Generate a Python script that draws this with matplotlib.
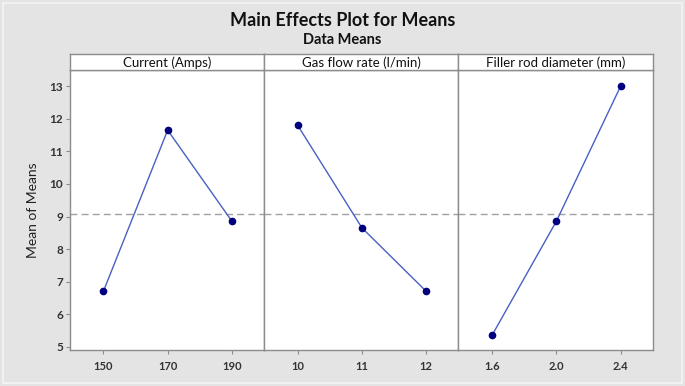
import matplotlib.pyplot as plt
from matplotlib.patches import Rectangle

# factor levels and mean of means
factors = ["Current (Amps)", "Gas flow rate (l/min)", "Filler rod diameter (mm)"]
levels = [["150", "170", "190"], ["10", "11", "12"], ["1.6", "2.0", "2.4"]]
means = [[6.70, 11.65, 8.85], [11.80, 8.65, 6.70], [5.35, 8.85, 13.00]]
grand_mean = 9.07
yticks = [5, 6, 7, 8, 9, 10, 11, 12, 13]

plt.rcParams['font.family'] = ['Lato', 'DejaVu Sans']

BG = '#e4e4e4'
EDGE = '#8c8c8c'

fig = plt.figure(figsize=(6.85, 3.86), dpi=100, facecolor=BG)

# faint frame round the whole graph
fig.patches.append(Rectangle((0.004, 0.008), 0.992, 0.984, transform=fig.transFigure,
                             fill=False, edgecolor='#f4f4f4', linewidth=1.2))

left, right = 0.102, 0.953
bottom, top = 0.093, 0.819
strip_h = 0.040
w = (right - left) / 3

for i in range(3):
    ax = fig.add_axes([left + i * w, bottom, w, top - bottom])
    ax.set_facecolor('white')
    x = list(range(len(levels[i])))
    ax.axhline(grand_mean, color='#a0a0a0', linestyle=(0, (5, 3)), linewidth=1)
    ax.plot(x, means[i], color='#4a5fc4', linewidth=1, zorder=3)
    ax.plot(x, means[i], 'o', color='#00007f', markersize=4.5, zorder=4)
    ax.set_xlim(-0.52, 2.5)
    ax.set_ylim(4.9, 13.5)
    ax.set_xticks(x)
    ax.set_xticklabels(levels[i], fontsize=8, fontweight='bold', color='#333333')
    ax.tick_params(axis='x', length=3, color=EDGE, pad=5)
    if i == 0:
        ax.set_yticks(yticks)
        ax.set_yticklabels([str(t) for t in yticks], fontsize=8.5, fontweight='bold', color='#333333')
        ax.tick_params(axis='y', length=3, color=EDGE, pad=2)
        ax.set_ylabel("Mean of Means", fontsize=10, color='#222222', labelpad=7)
    else:
        ax.set_yticks([])
    for s in ax.spines.values():
        s.set_color(EDGE)
        s.set_linewidth(1)

    # strip header
    sx = fig.add_axes([left + i * w, top, w, strip_h])
    sx.set_facecolor('white')
    sx.set_xticks([])
    sx.set_yticks([])
    for s in sx.spines.values():
        s.set_color(EDGE)
        s.set_linewidth(1)
    sx.text(0.5, 0.45, factors[i], ha='center', va='center', fontsize=9.5,
            color='#111111', transform=sx.transAxes)

fig.text(0.5, 0.948, "Main Effects Plot for Means", ha='center', va='center',
         fontsize=13, fontweight='bold', color='#111111')
fig.text(0.5, 0.896, "Data Means", ha='center', va='center',
         fontsize=10.5, fontweight='bold', color='#111111')

fig.savefig("out.png", dpi=100, facecolor=BG)
